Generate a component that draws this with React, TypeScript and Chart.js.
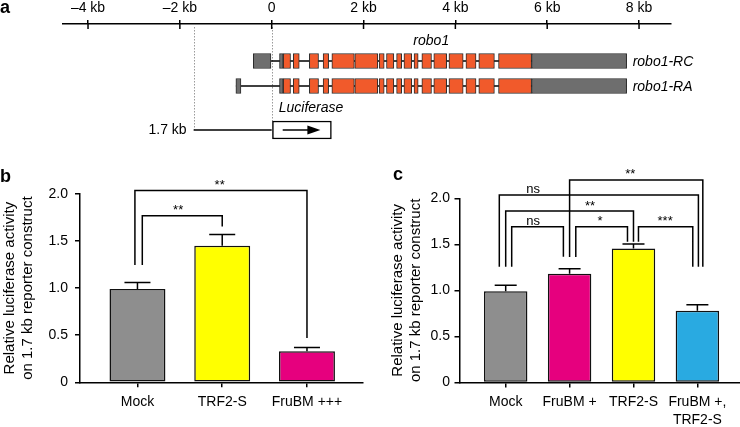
import React, { useEffect, useRef } from 'react';
import { Chart, registerables } from 'chart.js';

Chart.register(...registerables);

const FONT = "'Liberation Sans', Arial, Helvetica, sans-serif";
Chart.defaults.font.family = FONT;
Chart.defaults.color = '#000';

// ---------- Panel a: robo1 gene model (kb) ----------
const kbTicks = [-4, -2, 0, 2, 4, 6, 8];
const transcriptNames = ['robo1-RC', 'robo1-RA'];
const geneName = 'robo1';
const rcUtrExons: [number, number][] = [[-0.40, 0.0], [0.17, 0.25], [5.66, 7.73]];
const raUtrExons: [number, number][] = [[-0.78, -0.67], [0.17, 0.25], [5.66, 7.73]];
const codingExons: [number, number][] = [
  [0.25, 0.41], [0.47, 0.60], [0.82, 1.02], [1.12, 1.24], [1.31, 1.80], [1.81, 2.31],
  [2.34, 2.45], [2.50, 2.66], [2.72, 2.83], [2.88, 3.05], [3.10, 3.19], [3.27, 3.48],
  [3.53, 3.81], [3.86, 4.17], [4.23, 4.45], [4.51, 4.85], [4.94, 5.66],
];
const promoterStartKb = -1.7;
const luciferaseKb: [number, number] = [0, 1.3];
const promoterLabel = '1.7 kb';
const reporterLabel = 'Luciferase';

// ---------- Panel b ----------
const bCategories: (string | string[])[] = ['Mock', 'TRF2-S', 'FruBM +++'];
const bMeans = [0.99, 1.45, 0.33];
const bSem = [0.07, 0.12, 0.04];
const bColors = ['#8e8e8e', '#ffff00', '#e6007e'];
const bBrackets = [
  { from: 0.057, to: 1.0, level: 1.77, fromEnd: 1.246, toEnd: 1.654, label: '**', labelAt: 0.48 },
  { from: -0.03, to: 2.0, level: 2.036, fromEnd: 1.246, toEnd: 0.47, label: '**', labelAt: 0.97 },
];

// ---------- Panel c ----------
const cCategories: (string | string[])[] = ['Mock', 'FruBM +', 'TRF2-S', ['FruBM +,', 'TRF2-S']];
const cMeans = [0.99, 1.18, 1.455, 0.778];
const cSem = [0.065, 0.055, 0.05, 0.065];
const cColors = ['#8e8e8e', '#e6007e', '#ffff00', '#29aae1'];
const cBrackets = [
  { from: 0.094, to: 0.903, level: 1.69, fromEnd: 1.257, toEnd: 1.365, label: 'ns', labelAt: 0.43 },
  { from: 1.097, to: 1.906, level: 1.69, fromEnd: 1.362, toEnd: 1.528, label: '*', labelAt: 1.477 },
  { from: 2.078, to: 2.928, level: 1.69, fromEnd: 1.528, toEnd: 1.257, label: '***', labelAt: 2.495 },
  { from: 0.0, to: 2.0, level: 1.862, fromEnd: 1.257, toEnd: 1.528, label: '**', labelAt: 1.32 },
  { from: -0.1, to: 3.016, level: 2.036, fromEnd: 1.257, toEnd: 1.257, label: 'ns', labelAt: 0.43 },
  { from: 1.0, to: 3.085, level: 2.199, fromEnd: 1.362, toEnd: 1.257, label: '**', labelAt: 1.95 },
];

const yTicks = [0, 0.5, 1, 1.5, 2];
const yTitle = ['Relative luciferase activity', 'on 1.7 kb reporter construct'];

// ---------------------------------------------------
const ROW_RC = 0;
const ROW_RA = 1;
const ROW_CONSTRUCT = 2.76;

function geneConfig(): any {
  const rows = [ROW_RC, ROW_RA];
  const utr = [rcUtrExons, raUtrExons];
  const decor = {
    id: 'geneDecor',
    beforeDatasetsDraw(chart: any) {
      const { ctx } = chart;
      const xs = chart.scales.x;
      const ys = chart.scales.y;
      ctx.save();
      // dotted guides
      ctx.strokeStyle = '#9a9a9a';
      ctx.lineWidth = 1;
      ctx.setLineDash([1.5, 1.5]);
      const top = chart.chartArea.top + 3;
      const xp = Math.round(xs.getPixelForValue(promoterStartKb)) + 0.5;
      ctx.beginPath();
      ctx.moveTo(xp, top);
      ctx.lineTo(xp, ys.getPixelForValue(ROW_CONSTRUCT));
      const x0 = Math.round(xs.getPixelForValue(luciferaseKb[0])) + 0.5;
      ctx.moveTo(x0, top);
      ctx.lineTo(x0, ys.getPixelForValue(ROW_CONSTRUCT) - 9);
      ctx.stroke();
      ctx.setLineDash([]);
      // intron lines
      ctx.strokeStyle = '#000';
      ctx.lineWidth = 1.5;
      rows.forEach((r, i) => {
        const all = [...utr[i], ...codingExons];
        const s = Math.min(...all.map((e) => e[0]));
        const e = Math.max(...all.map((e) => e[1]));
        const y = ys.getPixelForValue(r);
        ctx.beginPath();
        ctx.moveTo(xs.getPixelForValue(s), y);
        ctx.lineTo(xs.getPixelForValue(e), y);
        ctx.stroke();
      });
      // promoter line
      const yc = ys.getPixelForValue(ROW_CONSTRUCT);
      ctx.beginPath();
      ctx.moveTo(xs.getPixelForValue(promoterStartKb), yc);
      ctx.lineTo(xs.getPixelForValue(luciferaseKb[0]), yc);
      ctx.stroke();
      ctx.restore();
    },
    afterDatasetsDraw(chart: any) {
      const { ctx } = chart;
      const xs = chart.scales.x;
      const ys = chart.scales.y;
      const axisY = chart.chartArea.top;
      ctx.save();
      // tick extensions below axis line
      ctx.strokeStyle = '#000';
      ctx.lineWidth = 1.5;
      kbTicks.forEach((t) => {
        const x = xs.getPixelForValue(t);
        ctx.beginPath();
        ctx.moveTo(x, axisY);
        ctx.lineTo(x, axisY + 5);
        ctx.stroke();
      });
      // arrow in luciferase box
      const yc = ys.getPixelForValue(ROW_CONSTRUCT);
      const bx0 = xs.getPixelForValue(luciferaseKb[0]);
      const bx1 = xs.getPixelForValue(luciferaseKb[1]);
      const ax0 = bx0 + 11;
      const ax1 = bx1 - 11;
      ctx.beginPath();
      ctx.moveTo(ax0, yc);
      ctx.lineTo(ax1 - 10, yc);
      ctx.stroke();
      ctx.fillStyle = '#000';
      ctx.beginPath();
      ctx.moveTo(ax1, yc);
      ctx.lineTo(ax1 - 13, yc - 4.5);
      ctx.lineTo(ax1 - 13, yc + 4.5);
      ctx.closePath();
      ctx.fill();
      // texts
      ctx.fillStyle = '#000';
      ctx.textBaseline = 'middle';
      ctx.font = `italic 14px ${FONT}`;
      const geneStart = Math.min(...raUtrExons.map((e) => e[0]), ...rcUtrExons.map((e) => e[0]));
      const geneEnd = Math.max(...raUtrExons.map((e) => e[1]), ...rcUtrExons.map((e) => e[1]));
      ctx.textAlign = 'center';
      ctx.fillText(geneName, xs.getPixelForValue((geneStart + geneEnd) / 2), ys.getPixelForValue(ROW_RC) - 20);
      ctx.textAlign = 'left';
      transcriptNames.forEach((n, i) => {
        ctx.fillText(n, xs.getPixelForValue(geneEnd) + 6, ys.getPixelForValue(rows[i]) + 1);
      });
      ctx.fillText(reporterLabel, bx0 + 7, yc - 22);
      ctx.font = `14px ${FONT}`;
      ctx.textAlign = 'right';
      ctx.fillText(promoterLabel, xs.getPixelForValue(promoterStartKb) - 7, yc);
      // panel letter
      ctx.font = `bold 18px ${FONT}`;
      ctx.textAlign = 'left';
      ctx.textBaseline = 'alphabetic';
      ctx.fillText('a', 0, 13);
      ctx.restore();
    },
  };

  return {
    type: 'bar',
    data: {
      datasets: [
        {
          label: 'UTR',
          data: [
            ...rcUtrExons.map((e) => ({ x: e, y: ROW_RC })),
            ...raUtrExons.map((e) => ({ x: e, y: ROW_RA })),
          ],
          backgroundColor: '#6e6e6e',
          borderColor: '#2b2b2b',
          borderWidth: 1,
          borderSkipped: false,
          barThickness: 15,
          grouped: false,
        },
        {
          label: 'CDS',
          data: [
            ...codingExons.map((e) => ({ x: e, y: ROW_RC })),
            ...codingExons.map((e) => ({ x: e, y: ROW_RA })),
          ],
          backgroundColor: '#f15a2b',
          borderColor: '#2b2b2b',
          borderWidth: 1,
          borderSkipped: false,
          barThickness: 15,
          grouped: false,
        },
        {
          label: 'Luciferase',
          data: [{ x: luciferaseKb, y: ROW_CONSTRUCT }],
          backgroundColor: '#ffffff',
          borderColor: '#000',
          borderWidth: 1.5,
          borderSkipped: false,
          barThickness: 18,
          grouped: false,
        },
      ],
    },
    options: {
      indexAxis: 'y',
      responsive: false,
      animation: false,
      devicePixelRatio: 1,
      layout: { padding: { left: 63, right: 69, top: 0, bottom: 0 } },
      plugins: { legend: { display: false }, tooltip: { enabled: false } },
      scales: {
        x: {
          type: 'linear',
          position: 'top',
          offset: false,
          min: -4.545,
          max: 8.696,
          afterBuildTicks: (s: any) => {
            s.ticks = kbTicks.map((v) => ({ value: v }));
          },
          afterFit: (s: any) => {
            s.height = 24;
          },
          ticks: {
            font: { size: 14 },
            color: '#000',
            padding: 3,
            maxRotation: 0,
            autoSkip: false,
            callback: (v: any) => (v === 0 ? '0' : (v < 0 ? '\u2013' : '') + Math.abs(v) + ' kb'),
          },
          grid: { drawOnChartArea: false, offset: false, color: '#000', tickLength: 4, lineWidth: 1.5 },
          border: { display: true, color: '#000', width: 1.5 },
        },
        y: {
          type: 'linear',
          display: false,
          offset: false,
          grid: { offset: false },
          reverse: true,
          min: -1.48,
          max: 3.56,
        },
      },
    },
    plugins: [decor],
  };
}

function barConfig(p: {
  cats: (string | string[])[];
  means: number[];
  sem: number[];
  colors: string[];
  brackets: any[];
  min: number;
  max: number;
  catPct: number;
  cap: number;
  padding: any;
  yWidth: number;
  xHeight: number;
  yTickPad: number;
  letter: string;
  letterX: number;
  letterY: number;
}): any {
  const annot = {
    id: 'annot',
    afterDatasetsDraw(chart: any) {
      const { ctx } = chart;
      const xs = chart.scales.x;
      const ys = chart.scales.y;
      ctx.save();
      ctx.strokeStyle = '#000';
      ctx.lineWidth = 1.5;
      ctx.lineJoin = 'miter';
      // error bars (upper)
      p.means.forEach((m, i) => {
        const x = xs.getPixelForValue(i);
        const y0 = ys.getPixelForValue(m);
        const y1 = ys.getPixelForValue(m + p.sem[i]);
        ctx.beginPath();
        ctx.moveTo(x, y0);
        ctx.lineTo(x, y1);
        ctx.moveTo(x - p.cap, y1);
        ctx.lineTo(x + p.cap, y1);
        ctx.stroke();
      });
      // significance brackets
      ctx.fillStyle = '#000';
      ctx.font = `13px ${FONT}`;
      ctx.textAlign = 'center';
      ctx.textBaseline = 'alphabetic';
      p.brackets.forEach((b) => {
        const x1 = xs.getPixelForValue(b.from);
        const x2 = xs.getPixelForValue(b.to);
        const yl = ys.getPixelForValue(b.level);
        ctx.beginPath();
        ctx.moveTo(x1, ys.getPixelForValue(b.fromEnd));
        ctx.lineTo(x1, yl);
        ctx.lineTo(x2, yl);
        ctx.lineTo(x2, ys.getPixelForValue(b.toEnd));
        ctx.stroke();
        ctx.fillText(b.label, xs.getPixelForValue(b.labelAt), yl - 1.5);
      });
      ctx.font = `bold 18px ${FONT}`;
      ctx.textAlign = 'left';
      ctx.fillText(p.letter, p.letterX, p.letterY);
      ctx.restore();
    },
  };
  return {
    type: 'bar',
    data: {
      datasets: [
        {
          data: p.means.map((m, i) => ({ x: i, y: m })),
          backgroundColor: p.colors,
          borderColor: '#111',
          borderWidth: 1.5,
          borderSkipped: false,
          barPercentage: 1,
          categoryPercentage: p.catPct,
        },
      ],
    },
    options: {
      responsive: false,
      animation: false,
      devicePixelRatio: 1,
      layout: { padding: p.padding },
      plugins: { legend: { display: false }, tooltip: { enabled: false } },
      scales: {
        x: {
          type: 'linear',
          offset: false,
          min: p.min,
          max: p.max,
          afterBuildTicks: (s: any) => {
            s.ticks = p.cats.map((_, i) => ({ value: i }));
          },
          afterFit: (s: any) => {
            s.height = p.xHeight;
          },
          ticks: {
            font: { size: 14, lineHeight: 1.25 },
            color: '#000',
            padding: 6,
            maxRotation: 0,
            autoSkip: false,
            callback: (v: any) => p.cats[v],
          },
          grid: { drawOnChartArea: false, offset: false, color: '#000', tickLength: 5, lineWidth: 1.5 },
          border: { display: true, color: '#000', width: 1.5 },
        },
        y: {
          type: 'linear',
          min: 0,
          max: 2,
          afterBuildTicks: (s: any) => {
            s.ticks = yTicks.map((v) => ({ value: v }));
          },
          afterFit: (s: any) => {
            s.width = p.yWidth;
          },
          ticks: {
            font: { size: 14 },
            color: '#000',
            padding: p.yTickPad,
            callback: (v: any) => (v === 0 ? '0' : Number(v).toFixed(1)),
          },
          grid: { drawOnChartArea: false, color: '#000', tickLength: 5, lineWidth: 1.5 },
          border: { display: true, color: '#000', width: 1.5 },
          title: {
            display: true,
            text: yTitle,
            font: { size: 15, lineHeight: 1.15 },
            color: '#000',
            padding: { top: 1.5, bottom: 0 },
          },
        },
      },
    },
    plugins: [annot],
  };
}

function ChartCanvas({ make, left, top, width, height }: any) {
  const ref = useRef<HTMLCanvasElement>(null);
  useEffect(() => {
    const chart = new Chart(ref.current as HTMLCanvasElement, make());
    return () => chart.destroy();
  }, []);
  return (
    <canvas
      ref={ref}
      width={width}
      height={height}
      style={{ position: 'absolute', left, top, width, height, display: 'block' }}
    />
  );
}

export default function App() {
  return (
    <div
      style={{
        position: 'absolute',
        left: 0,
        top: 0,
        width: 740,
        height: 427,
        background: '#fff',
        overflow: 'hidden',
      }}
    >
      <ChartCanvas make={geneConfig} left={0} top={0} width={740} height={150} />
      <ChartCanvas
        make={() =>
          barConfig({
            cats: bCategories,
            means: bMeans,
            sem: bSem,
            colors: bColors,
            brackets: bBrackets,
            min: -0.678,
            max: 2.661,
            catPct: 0.66,
            cap: 13,
            padding: { left: 0, top: 44, right: 7, bottom: 0 },
            yWidth: 80,
            xHeight: 44.7,
            yTickPad: 7,
            letter: 'b',
            letterX: 0,
            letterY: 32,
          })
        }
        left={0}
        top={150}
        width={370}
        height={277}
      />
      <ChartCanvas
        make={() =>
          barConfig({
            cats: cCategories,
            means: cMeans,
            sem: cSem,
            colors: cColors,
            brackets: cBrackets,
            min: -0.723,
            max: 3.667,
            catPct: 0.68,
            cap: 11,
            padding: { left: 18, top: 48.3, right: 0, bottom: 0 },
            yWidth: 71.5,
            xHeight: 44.5,
            yTickPad: 4.5,
            letter: 'c',
            letterX: 23,
            letterY: 30,
          })
        }
        left={370}
        top={150}
        width={370}
        height={277}
      />
    </div>
  );
}
